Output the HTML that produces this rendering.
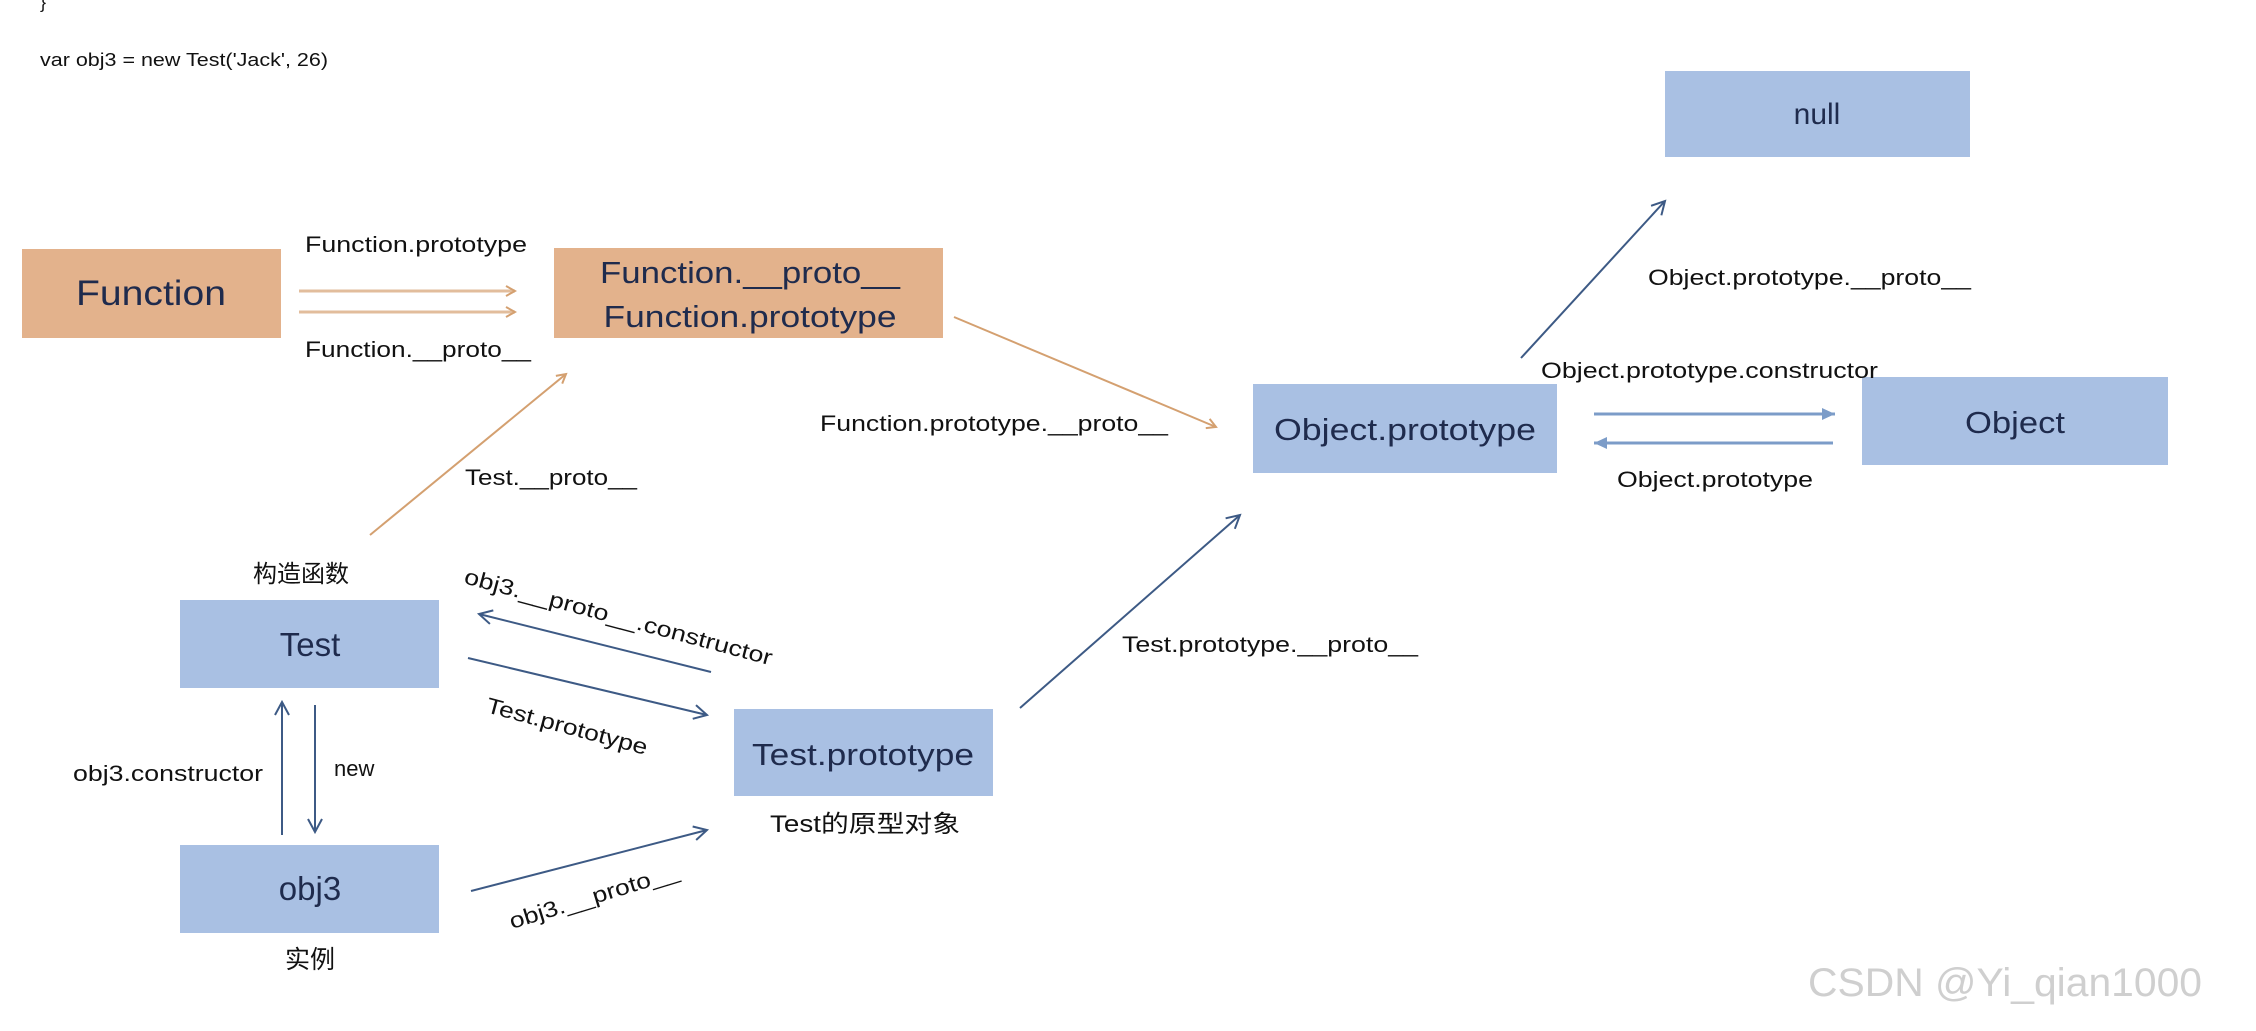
<!DOCTYPE html>
<html><head><meta charset="utf-8"><style>
html,body{margin:0;padding:0;background:#fff;}
svg{display:block;}
text{font-family:"Liberation Sans","Noto Sans CJK SC",sans-serif;fill:#111;}
.b{fill:#1f2b4d;}
</style></head><body>
<svg width="2256" height="1031" viewBox="0 0 2256 1031" xmlns="http://www.w3.org/2000/svg">
<defs>
<marker id="ao" markerWidth="12" markerHeight="12" refX="10" refY="6" orient="auto" markerUnits="userSpaceOnUse"><path d="M1,1 L10,6 L1,11" fill="none" stroke="#d4a070" stroke-width="2"/></marker>
<marker id="ab" markerWidth="16" markerHeight="16" refX="14" refY="8" orient="auto" markerUnits="userSpaceOnUse"><path d="M1,1 L14,8 L1,15" fill="none" stroke="#3d5a85" stroke-width="2"/></marker>
<marker id="al" markerWidth="16" markerHeight="16" refX="14" refY="8" orient="auto" markerUnits="userSpaceOnUse"><path d="M1,2 L14,8 L1,14 Z" fill="#7c9cc8"/></marker>
</defs>
<rect width="2256" height="1031" fill="#fff"/>
<text x="40" y="8" font-size="18">}</text>
<text x="40" y="66" font-size="18" textLength="288" lengthAdjust="spacingAndGlyphs">var obj3 = new Test('Jack', 26)</text>

<rect x="22" y="249" width="259" height="89" fill="#e3b28c"/>
<text x="151" y="305" font-size="35" text-anchor="middle" class="b" textLength="150" lengthAdjust="spacingAndGlyphs">Function</text>
<rect x="554" y="248" width="389" height="90" fill="#e3b28c"/>
<text x="750" y="283" font-size="31" text-anchor="middle" class="b" textLength="300" lengthAdjust="spacingAndGlyphs">Function.__proto__</text>
<text x="750" y="327" font-size="31" text-anchor="middle" class="b" textLength="293" lengthAdjust="spacingAndGlyphs">Function.prototype</text>

<rect x="1665" y="71" width="305" height="86" fill="#a9c0e3"/>
<text x="1817" y="124" font-size="30" text-anchor="middle" class="b">null</text>
<rect x="1253" y="384" width="304" height="89" fill="#a9c0e3"/>
<text x="1405" y="440" font-size="31" text-anchor="middle" class="b" textLength="262" lengthAdjust="spacingAndGlyphs">Object.prototype</text>
<rect x="1862" y="377" width="306" height="88" fill="#a9c0e3"/>
<text x="2015" y="433" font-size="31" text-anchor="middle" class="b" textLength="100" lengthAdjust="spacingAndGlyphs">Object</text>
<rect x="180" y="600" width="259" height="88" fill="#a9c0e3"/>
<text x="310" y="656" font-size="33" text-anchor="middle" class="b">Test</text>
<rect x="734" y="709" width="259" height="87" fill="#a9c0e3"/>
<text x="863" y="765" font-size="31" text-anchor="middle" class="b" textLength="222" lengthAdjust="spacingAndGlyphs">Test.prototype</text>
<rect x="180" y="845" width="259" height="88" fill="#a9c0e3"/>
<text x="310" y="900" font-size="33" text-anchor="middle" class="b">obj3</text>

<line x1="299" y1="291" x2="515" y2="291" stroke="#e2bd9c" stroke-width="3" marker-end="url(#ao)"/>
<line x1="299" y1="312" x2="515" y2="312" stroke="#e2bd9c" stroke-width="3" marker-end="url(#ao)"/>
<line x1="954" y1="317" x2="1216" y2="427" stroke="#d4a070" stroke-width="2" marker-end="url(#ao)"/>
<line x1="370" y1="535" x2="566" y2="374" stroke="#d4a070" stroke-width="2" marker-end="url(#ao)"/>

<line x1="1521" y1="358" x2="1665" y2="201" stroke="#3d5a85" stroke-width="2" marker-end="url(#ab)"/>
<line x1="1594" y1="414" x2="1835" y2="414" stroke="#7c9cc8" stroke-width="3" marker-end="url(#al)"/>
<line x1="1833" y1="443" x2="1594" y2="443" stroke="#7c9cc8" stroke-width="3" marker-end="url(#al)"/>
<line x1="711" y1="672" x2="479" y2="614" stroke="#3d5a85" stroke-width="2" marker-end="url(#ab)"/>
<line x1="468" y1="658" x2="707" y2="715" stroke="#3d5a85" stroke-width="2" marker-end="url(#ab)"/>
<line x1="1020" y1="708" x2="1240" y2="515" stroke="#3d5a85" stroke-width="2" marker-end="url(#ab)"/>
<line x1="282" y1="835" x2="282" y2="702" stroke="#3d5a85" stroke-width="2" marker-end="url(#ab)"/>
<line x1="315" y1="705" x2="315" y2="832" stroke="#3d5a85" stroke-width="2" marker-end="url(#ab)"/>
<line x1="471" y1="891" x2="707" y2="830" stroke="#3d5a85" stroke-width="2" marker-end="url(#ab)"/>

<text x="305" y="252" font-size="22" textLength="222" lengthAdjust="spacingAndGlyphs">Function.prototype</text>
<text x="305" y="357" font-size="22" textLength="226" lengthAdjust="spacingAndGlyphs">Function.__proto__</text>
<text x="820" y="431" font-size="22" textLength="348" lengthAdjust="spacingAndGlyphs">Function.prototype.__proto__</text>
<text x="465" y="485" font-size="22" textLength="172" lengthAdjust="spacingAndGlyphs">Test.__proto__</text>
<text x="1648" y="285" font-size="22" textLength="323" lengthAdjust="spacingAndGlyphs">Object.prototype.__proto__</text>
<text x="1541" y="378" font-size="22" textLength="337" lengthAdjust="spacingAndGlyphs">Object.prototype.constructor</text>
<text x="1617" y="487" font-size="22" textLength="196" lengthAdjust="spacingAndGlyphs">Object.prototype</text>
<text x="253" y="582" font-size="24">构造函数</text>
<text x="463" y="583" font-size="22" transform="rotate(15 463 583)" textLength="318" lengthAdjust="spacingAndGlyphs">obj3.__proto__.constructor</text>
<text x="485" y="712" font-size="22" transform="rotate(15 485 712)" textLength="166" lengthAdjust="spacingAndGlyphs">Test.prototype</text>
<text x="770" y="832" font-size="24" textLength="190" lengthAdjust="spacingAndGlyphs">Test的原型对象</text>
<text x="1122" y="652" font-size="22" textLength="296" lengthAdjust="spacingAndGlyphs">Test.prototype.__proto__</text>
<text x="73" y="781" font-size="22" textLength="190" lengthAdjust="spacingAndGlyphs">obj3.constructor</text>
<text x="334" y="776" font-size="22">new</text>
<text x="512" y="929" font-size="22" transform="rotate(-17 512 929)" textLength="176" lengthAdjust="spacingAndGlyphs">obj3.__proto__</text>
<text x="310" y="968" font-size="25" text-anchor="middle">实例</text>
<text x="1808" y="996" font-size="40" style="fill:#cfcfcf" textLength="394" lengthAdjust="spacingAndGlyphs">CSDN @Yi_qian1000</text>
</svg>
</body></html>
